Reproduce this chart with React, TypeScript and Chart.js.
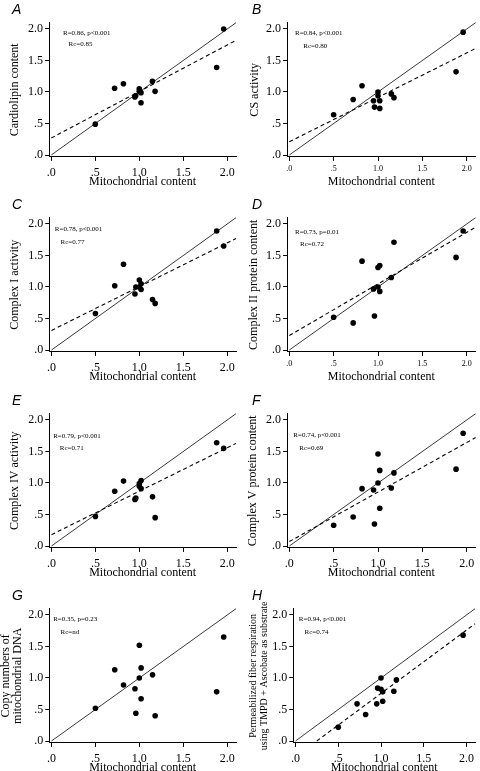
import React, { useEffect, useRef } from 'react';
import { Chart, registerables } from 'chart.js';

Chart.register(...registerables);

// ---------- data ----------
const mitochondrialContent = [0.5, 0.72, 0.82, 0.95, 0.96, 1.0, 1.0, 1.02, 1.02, 1.15, 1.18, 1.88, 1.96];

const cardiolipinContent = [0.49, 1.06, 1.13, 0.92, 0.94, 1.05, 1.01, 0.83, 0.99, 1.17, 1.01, 1.39, 2.0];
const csActivity = [0.64, 0.88, 1.1, 0.86, 0.76, 1.0, 0.94, 0.74, 0.86, 0.97, 0.91, 1.32, 1.95];
const complexIActivity = [0.58, 1.02, 1.36, 0.89, 1.0, 1.11, 1.0, 0.96, 1.05, 0.8, 0.74, 1.89, 1.65];
const complexIIProtein = [0.52, 0.43, 1.41, 0.97, 0.54, 1.31, 1.0, 1.34, 0.93, 1.15, 1.71, 1.47, 1.89];
const complexIVActivity = [0.47, 0.87, 1.03, 0.74, 0.76, 0.99, 0.95, 1.04, 0.91, 0.78, 0.45, 1.64, 1.55];
const complexVProtein = [0.33, 0.46, 0.91, 0.89, 0.35, 1.46, 1.0, 1.2, 0.6, 0.92, 1.16, 1.22, 1.79];
const mtDnaCopies = [0.52, 1.13, 0.89, 0.83, 0.44, 1.52, 1.0, 1.16, 0.67, 1.05, 0.4, 0.78, 1.65];
const fiberRespiration = [0.22, 0.59, 0.42, 0.59, 0.84, 1.0, 0.82, 0.78, 0.63, 0.79, 0.97, null, 1.68];

const seriesValues = [
  cardiolipinContent, csActivity, complexIActivity, complexIIProtein,
  complexIVActivity, complexVProtein, mtDnaCopies, fiberRespiration,
];

const panelLetters = ['A', 'B', 'C', 'D', 'E', 'F', 'G', 'H'];
const yTitles: (string | string[])[] = [
  'Cardiolipin content',
  'CS activity',
  'Complex I activity',
  'Complex II protein content',
  'Complex IV activity',
  'Complex V protein content',
  ['Copy numbers of', 'mitochondrial DNA'],
  ['Permeabilized fiber respiration', 'using TMPD + Ascobate as substrate'],
];
const xTitle = 'Mitochondrial content';
const statR = ['R=0.86, p<0.001', 'R=0.84, p<0.001', 'R=0.78, p<0.001', 'R=0.73, p=0.01',
  'R=0.79, p<0.001', 'R=0.74, p<0.001', 'R=0.35, p=0.23', 'R=0.94, p<0.001'];
const statRc = ['Rc=0.85', 'Rc=0.80', 'Rc=0.77', 'Rc=0.72', 'Rc=0.71', 'Rc=0.69', 'Rc=nd', 'Rc=0.74'];

// regression (dashed) lines: intercept and slope; identity line slope 1
const regressionIntercept = [0.27, 0.21, 0.31, 0.23, 0.18, 0.07, null, -0.25];
const regressionSlope = [0.738, 0.705, 0.695, 0.819, 0.69, 0.786, null, 1.005];

const tickValues = [0, 0.5, 1, 1.5, 2];
const tickLabels = ['.0', '.5', '1.0', '1.5', '2.0'];

const X_MIN = -0.025;
const X_MAX = 2.1;
const Y_MIN = -0.03;
const Y_MAX = 2.1;

// ---------- layout (positions / styles only) ----------
const W = 240;
const H = 195;
const rowTops = [0, 195, 391, 586];
const Y0 = 155; // pixel of y=0 inside a panel canvas
const KY = 63; // pixels per unit on y

type Layout = {
  p0: number; k: number; smallX: boolean;
  yFont: number; yLine: number; yPad: number;
  s1: [number, number]; s2: [number, number];
};

const layouts: Layout[] = [
  { p0: 51.3, k: 88.6, smallX: false, yFont: 12, yLine: 1.2, yPad: 7.8, s1: [11.7, 4.3], s2: [17.3, 15] },
  { p0: 49.3, k: 88.7, smallX: true, yFont: 12, yLine: 1.2, yPad: 7.8, s1: [5.7, 3.7], s2: [14, 16.7] },
  { p0: 51.5, k: 88.7, smallX: false, yFont: 12, yLine: 1.2, yPad: 7.8, s1: [3.3, 5.3], s2: [9, 18.3] },
  { p0: 49.3, k: 88.7, smallX: true, yFont: 12, yLine: 1.2, yPad: 6.2, s1: [5.7, 8.3], s2: [10.7, 20] },
  { p0: 51.5, k: 88.7, smallX: false, yFont: 12, yLine: 1.2, yPad: 7.8, s1: [1.7, 16], s2: [8.3, 27.7] },
  { p0: 49.3, k: 88.7, smallX: false, yFont: 12, yLine: 1.2, yPad: 6, s1: [4, 15.3], s2: [10, 27.7] },
  { p0: 51.5, k: 88.7, smallX: false, yFont: 12, yLine: 1.0, yPad: 0, s1: [1.7, 4.3], s2: [9, 17] },
  { p0: 55.5, k: 85.5, smallX: false, yFont: 10, yLine: 1.1, yPad: 7.5, s1: [3.3, 4.3], s2: [9, 17] },
];

const SERIF = '"Liberation Serif", "Times New Roman", serif';

const annotPlugin = {
  id: 'annot',
  afterDraw(chart: any, _args: any, opts: any) {
    const { ctx, scales } = chart;
    const x0 = scales.x.getPixelForValue(0);
    const y2 = scales.y.getPixelForValue(2);
    ctx.save();
    ctx.fillStyle = '#000';
    ctx.font = `7px ${SERIF}`;
    ctx.textBaseline = 'middle';
    ctx.textAlign = 'left';
    ctx.fillText(opts.r, x0 + opts.s1[0], y2 + opts.s1[1]);
    ctx.fillText(opts.rc, x0 + opts.s2[0], y2 + opts.s2[1]);
    ctx.font = 'italic 14px "Liberation Sans", Arial, sans-serif';
    ctx.textBaseline = 'alphabetic';
    ctx.fillText(opts.letter, 12, 14);
    ctx.restore();
  },
};

function Panel({ index }: { index: number }) {
  const ref = useRef<HTMLCanvasElement>(null);
  useEffect(() => {
    const L = layouts[index];
    const areaLeft = L.p0 + X_MIN * L.k;
    const areaRight = L.p0 + X_MAX * L.k;
    const areaTop = Y0 - Y_MAX * KY;
    const areaBottom = Y0 - Y_MIN * KY;
    const ys = seriesValues[index];
    const points = mitochondrialContent
      .map((x, i) => ({ x, y: ys[i] as number }))
      .filter((p) => p.y !== null && p.y !== undefined);

    const datasets: any[] = [
      {
        data: points,
        pointRadius: 2.8,
        pointBackgroundColor: '#000',
        pointBorderColor: '#000',
        pointBorderWidth: 0,
        showLine: false,
        order: 0,
      },
      {
        data: [{ x: 0, y: 0 }, { x: X_MAX, y: X_MAX }],
        showLine: true,
        pointRadius: 0,
        borderColor: '#3a3a3a',
        borderWidth: 1,
        clip: false,
        order: 2,
      },
    ];
    const b = regressionIntercept[index];
    const m = regressionSlope[index];
    if (b !== null && m !== null) {
      const xs = Math.max(0, -b / m);
      datasets.push({
        data: [{ x: xs, y: b + m * xs }, { x: X_MAX, y: b + m * X_MAX }],
        showLine: true,
        pointRadius: 0,
        borderColor: '#000',
        borderWidth: 1.1,
        borderDash: [4, 3],
        clip: false,
        order: 1,
      });
    }

    const setTicks = (scale: any) => {
      scale.ticks = tickValues.map((v) => ({ value: v }));
    };
    const fmt = (v: any) => {
      const i = tickValues.indexOf(Number(v));
      return i >= 0 ? tickLabels[i] : '';
    };

    const chart = new Chart(ref.current as HTMLCanvasElement, {
      type: 'scatter',
      data: { datasets },
      plugins: [annotPlugin as any],
      options: {
        animation: false,
        responsive: false,
        devicePixelRatio: 1,
        events: [],
        layout: { padding: { left: 0, top: areaTop, right: W - areaRight, bottom: 0 } },
        plugins: {
          legend: { display: false },
          tooltip: { enabled: false },
          annot: { r: statR[index], rc: statRc[index], s1: L.s1, s2: L.s2, letter: panelLetters[index] },
        } as any,
        scales: {
          x: {
            type: 'linear',
            min: X_MIN,
            max: X_MAX,
            afterBuildTicks: setTicks,
            afterFit: (s: any) => { s.height = H - areaBottom; },
            border: { display: true, color: '#000', width: 1 },
            grid: { display: true, drawOnChartArea: false, drawTicks: true, tickLength: 4, color: '#000' },
            ticks: {
              callback: fmt,
              color: '#000',
              font: { family: SERIF, size: L.smallX ? 8 : 12 },
              padding: L.smallX ? 3 : 5,
              maxRotation: 0,
              autoSkip: false,
            },
            title: {
              display: true,
              text: xTitle,
              color: '#000',
              font: { family: SERIF, size: 12, lineHeight: 1.2 },
              padding: { top: 0, bottom: 6 },
            },
          },
          y: {
            type: 'linear',
            min: Y_MIN,
            max: Y_MAX,
            afterBuildTicks: setTicks,
            afterFit: (s: any) => { s.width = areaLeft; },
            border: { display: true, color: '#000', width: 1 },
            grid: { display: true, drawOnChartArea: false, drawTicks: true, tickLength: 4, color: '#000' },
            ticks: {
              callback: fmt,
              color: '#000',
              font: { family: SERIF, size: 12 },
              padding: 2,
              autoSkip: false,
            },
            title: {
              display: true,
              text: yTitles[index] as any,
              color: '#000',
              font: { family: SERIF, size: L.yFont, lineHeight: L.yLine },
              padding: { top: L.yPad, bottom: 0 },
            },
          },
        },
      },
    });
    return () => chart.destroy();
  }, [index]);

  const col = index % 2;
  const row = Math.floor(index / 2);
  return (
    <canvas
      ref={ref}
      width={W}
      height={H}
      style={{ position: 'absolute', left: col * W, top: rowTops[row], width: W, height: H }}
    />
  );
}

export default function App() {
  return (
    <div
      style={{
        position: 'absolute',
        left: 0,
        top: 0,
        width: 480,
        height: 771,
        overflow: 'hidden',
        background: '#fff',
      }}
    >
      {panelLetters.map((_, i) => (
        <Panel key={i} index={i} />
      ))}
    </div>
  );
}
